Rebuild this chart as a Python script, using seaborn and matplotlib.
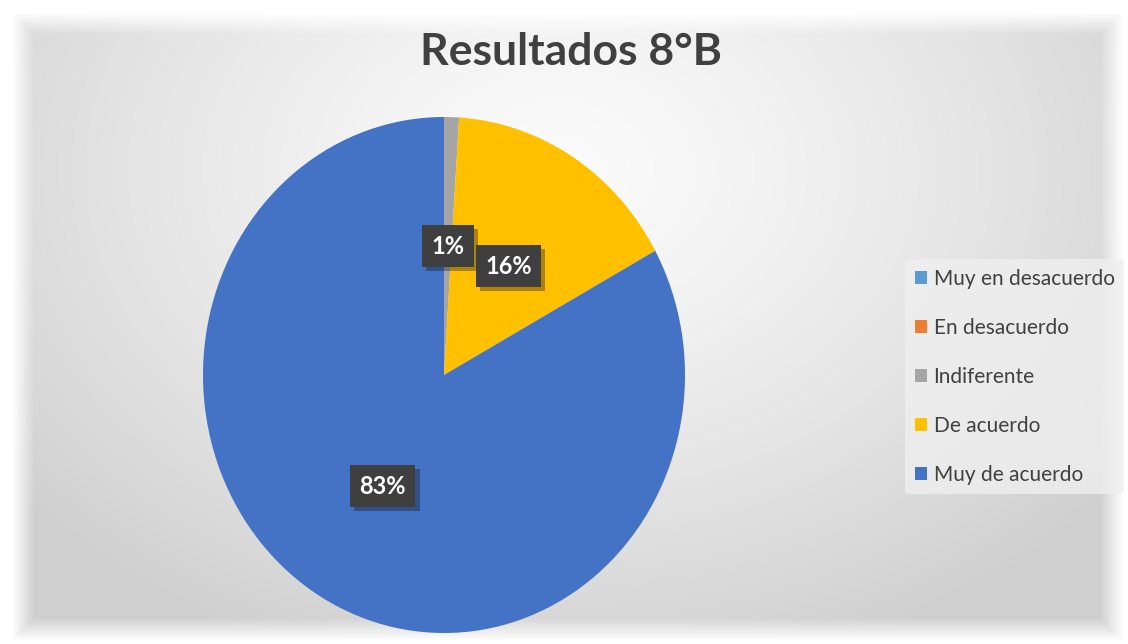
import numpy as np
import matplotlib
matplotlib.use("Agg")
import matplotlib.pyplot as plt
import matplotlib.patheffects as pe
import seaborn as sns

TITLE = "Resultados 8°B"
CATEGORIES = ["Muy en desacuerdo", "En desacuerdo", "Indiferente", "De acuerdo", "Muy de acuerdo"]
PERCENTS = [0, 0, 1, 16, 83]
COLORS = ["#5B9BD5", "#ED7D31", "#A5A5A5", "#FFC000", "#4472C4"]

sns.set_theme(style="white")
plt.rcParams["font.family"] = ["Lato", "DejaVu Sans"]

W, H = 1128, 644
fig = plt.figure(figsize=(W / 100, H / 100), dpi=100)
fig.patch.set_facecolor("white")

# background: gray panel with a soft radial light and blurred edges
bg = fig.add_axes([0, 0, 1, 1])
bg.set_axis_off()
yy, xx = np.mgrid[0:H, 0:W]
r = np.sqrt(((xx - 560) / 700.0) ** 2 + ((yy - 170) / 520.0) ** 2)
panel = 0.985 - 0.17 * np.clip(r, 0, 1) ** 1.3
edge = np.minimum.reduce([xx - 12, W - 6 - xx, yy - 12, H - 4 - yy]).astype(float)
mask = np.clip(edge / 22.0, 0, 1)
shade = 1.0 * (1 - mask) + panel * mask
bg.imshow(np.dstack([shade] * 3), extent=[0, W, H, 0], aspect="auto", zorder=0)
bg.set_xlim(0, W)
bg.set_ylim(H, 0)

fig.text(571 / W, 1 - 52 / H, TITLE, ha="center", va="center",
         fontsize=32, fontweight="bold", color="#404040")

ax = fig.add_axes([203 / W, 11 / H, 482 / W, 516 / H])
palette = sns.color_palette(COLORS)


def fmt(p):
    return f"{p:.0f}%" if p > 0.5 else ""


wedges, texts, autotexts = ax.pie(
    PERCENTS, colors=palette, startangle=90, counterclock=False,
    autopct=fmt, pctdistance=0.5,
    wedgeprops={"linewidth": 0},
    textprops={"color": "white", "fontsize": 17, "fontweight": "bold"},
)
ax.set_aspect("auto")
ax.set_xlim(-1, 1)
ax.set_ylim(-1, 1)
ax.set_axis_off()

for t in autotexts:
    if t.get_text():
        t.set_bbox({"boxstyle": "square,pad=0.4", "facecolor": "#3f3f3f",
                    "edgecolor": "none"})
        t.get_bbox_patch().set_path_effects(
            [pe.SimplePatchShadow(offset=(3, -3), alpha=0.35), pe.Normal()])

leg = fig.legend(
    wedges, CATEGORIES, loc="upper left", bbox_to_anchor=(895 / W, 1 - 249 / H),
    frameon=True, fontsize=15, handlelength=0.6, handleheight=0.6,
    handletextpad=0.3, labelspacing=1.39, borderpad=0.45,
)
leg.get_frame().set_facecolor("#efefef")
leg.get_frame().set_edgecolor("none")
leg.get_frame().set_alpha(0.8)
for t in leg.get_texts():
    t.set_color("#404040")

fig.savefig("out.png", dpi=100)
